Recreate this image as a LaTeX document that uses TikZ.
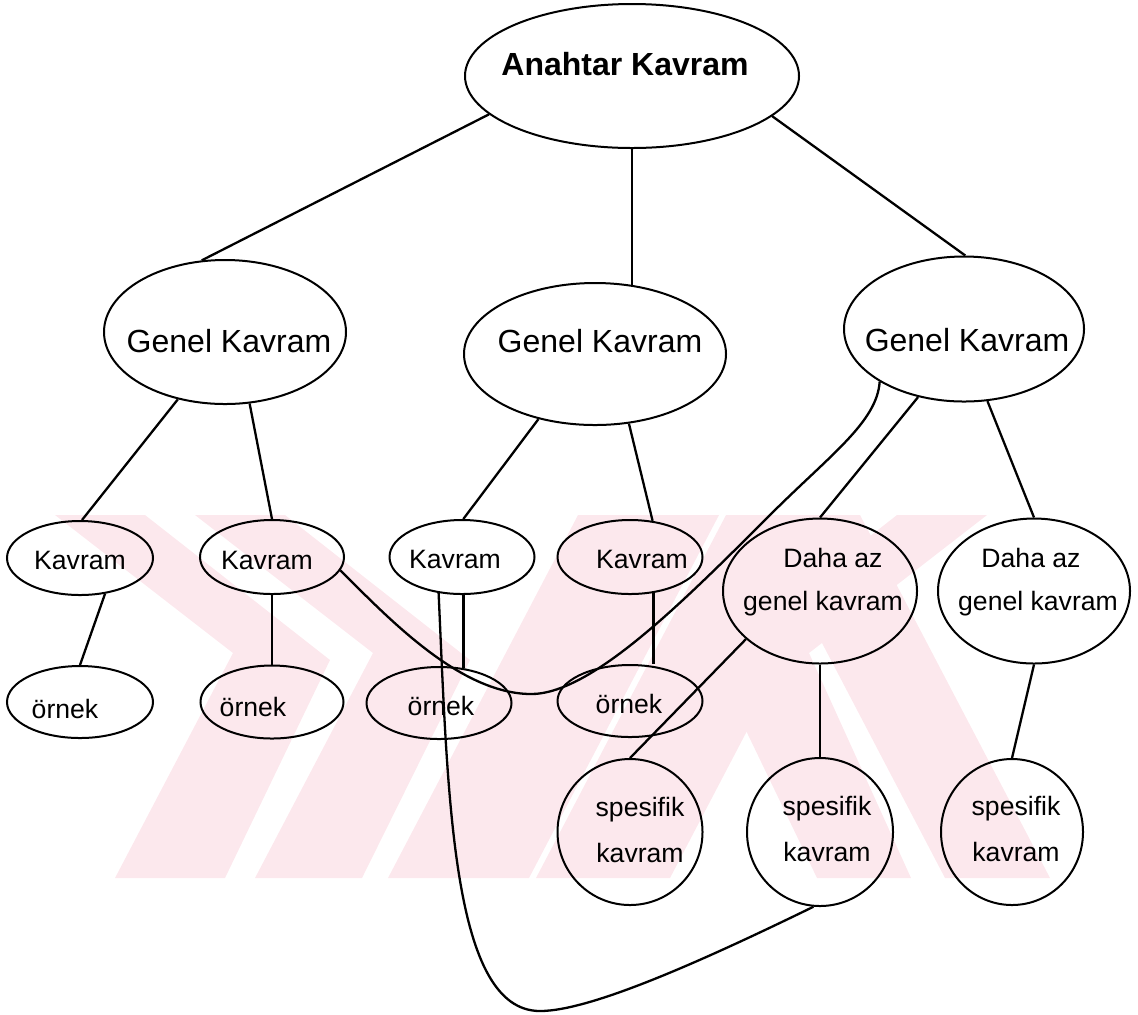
\documentclass[tikz,border=0pt]{standalone}
\usepackage{fontspec}
\setmainfont{Liberation Sans}
\usetikzlibrary{shapes.geometric}
\definecolor{wmark}{RGB}{252,232,237}
\begin{document}
\begin{tikzpicture}[x=0.5pt,y=-0.5pt,
  ov/.style 2 args={draw, ellipse, line width=1pt, inner sep=0pt,
    minimum width=#1*0.5pt, minimum height=#2*0.5pt},
  lk/.style={line width=1.15pt},
  lbl/.style={font=\fontsize{13.3}{16}\selectfont, anchor=base, inner sep=0pt},
  big/.style={font=\fontsize{16}{19}\selectfont, anchor=base, inner sep=0pt},
]
\useasboundingbox (0,0) rectangle (1138,1014);

% faint background emblem
\begin{scope}
  \clip (0,515) rectangle (1138,878);
  \fill[wmark] (55,515) -- (145,515) -- (330,660) -- (225,878) -- (115,878) -- (233,653) -- cycle;
  \fill[wmark] (195,515) -- (285,515) -- (470,660) -- (362,878) -- (255,878) -- (373,653) -- cycle;
  \fill[wmark] (388,878) -- (529,878) -- (719,515) -- (578,515) -- cycle;
  \fill[wmark] (536,878) -- (670,878) -- (860,515) -- (726,515) -- cycle;
  \fill[wmark] (987,515) -- (897,515) -- (712,660) -- (817,878) -- (911,878) -- (809,653) -- cycle;
  \fill[wmark] (945,878) -- (1050,878) -- (860,515) -- (755,515) -- cycle;
\end{scope}

% concept ellipses
\node[ov={334}{144}] (ak) at (632,76) {};
\node[ov={242}{144}] (g1) at (225,332) {};
\node[ov={262}{142}] (g2) at (595,354) {};
\node[ov={240}{145}] (g3) at (964,329) {};
\node[ov={146}{74}] (k1) at (80,558) {};
\node[ov={144}{74}] (k2) at (272,557) {};
\node[ov={145}{74}] (k3) at (462,557) {};
\node[ov={145}{74}] (k4) at (630,557) {};
\node[ov={194}{145}] (d1) at (820,591) {};
\node[ov={192}{145}] (d2) at (1034,591) {};
\node[ov={146}{72}] (o1) at (80,702) {};
\node[ov={143}{73}] (o2) at (272,702) {};
\node[ov={145}{72}] (o3) at (439,703) {};
\node[ov={145}{72}] (o4) at (630,701) {};
\node[ov={145}{146}] (s1) at (630,832) {};
\node[ov={146}{148}] (s2) at (820,832) {};
\node[ov={142}{146}] (s3) at (1012,832) {};

% labels
\node[big, font=\bfseries\fontsize{16}{19}\selectfont] (tak) at (625,75) {Anahtar Kavram};
\node[big] (tg1) at (229,352) {Genel Kavram};
\node[big] (tg2) at (600,352) {Genel Kavram};
\node[big] (tg3) at (967,351) {Genel Kavram};
\node[lbl] (tk1) at (80,569) {Kavram};
\node[lbl] (tk2) at (267,569) {Kavram};
\node[lbl] (tk3) at (455,568) {Kavram};
\node[lbl] (tk4) at (642,568) {Kavram};
\node[lbl] (to1) at (65,718) {örnek};
\node[lbl] (to2) at (253,716) {örnek};
\node[lbl] (to3) at (441,715) {örnek};
\node[lbl] (to4) at (629,713) {örnek};
\node[lbl] (td1a) at (833,567) {Daha az};
\node[lbl] (td1b) at (823,610) {genel kavram};
\node[lbl] (td2a) at (1031,567) {Daha az};
\node[lbl] (td2b) at (1038,610) {genel kavram};
\node[lbl] (ts1a) at (640,816) {spesifik};
\node[lbl] (ts1b) at (640,862) {kavram};
\node[lbl] (ts2a) at (827,815) {spesifik};
\node[lbl] (ts2b) at (827,861) {kavram};
\node[lbl] (ts3a) at (1016,815) {spesifik};
\node[lbl] (ts3b) at (1016,861) {kavram};

% tree links
\draw[lk] (ak.195.4) -- (g1.108.4);
\draw[lk] (g2.62) -- (g2.62 |- ak.south);
\draw[lk] (ak.344.7) -- (g3.89);
\draw[lk] (g1.235.2) -- (k1.87);
\draw[lk] (g1.289.9) -- (k2.north);
\draw[lk] (g2.229) -- (k3.88);
\draw[lk] (g2.296.9) -- (k4.58.8);
\draw[lk] (g3.236.1) -- (d1.north);
\draw[lk] (g3.288.7) -- (d2.north);
\draw[lk] (k1.305.5) -- (o1.north);
\draw[lk] (k2.south) -- (o2.north);
\draw[lk] (o3.55) -- (o3.55 |- k3.south);
\draw[lk] (k4.303) -- (k4.303 |- o4.north);
\draw[lk] (d1.south) -- (s2.north);
\draw[lk] (d2.south) -- (s3.north);
\draw[lk] (d1.213.9) -- (s1.north);

% cross links
\draw[lk] (g3.212) .. controls (877,422) and (830,455) .. (770,515)
  .. controls (680,605) and (590,695) .. (530,694)
  .. controls (460,693) and (390,620) .. (k2.349);
\draw[lk] (k3.237) .. controls (448,800) and (452,1011) .. (540,1011)
  .. controls (590,1011) and (700,962) .. (s2.265);
\end{tikzpicture}
\end{document}
